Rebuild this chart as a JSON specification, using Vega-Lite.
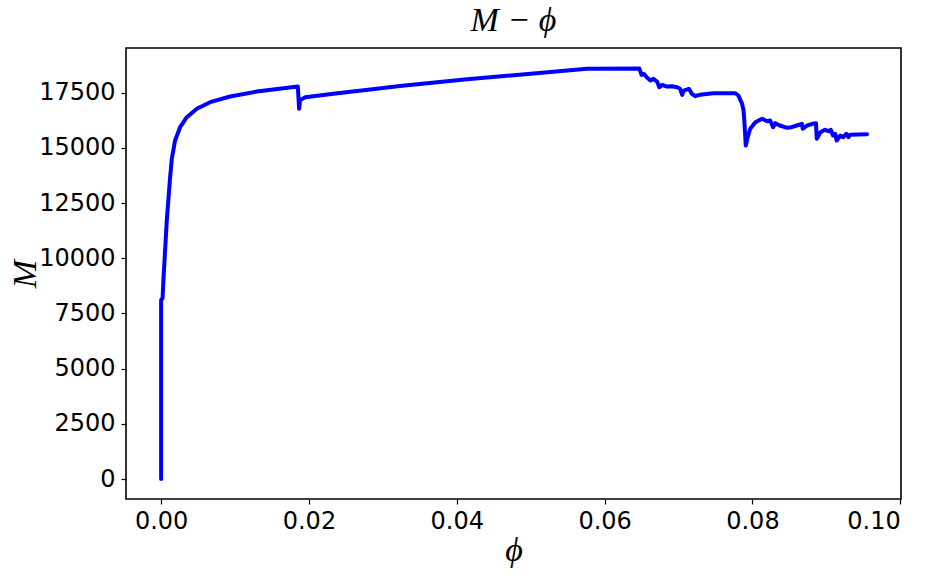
{
  "$schema": "https://vega.github.io/schema/vega-lite/v6.json",
  "width": 775,
  "height": 451,
  "autosize": {"type": "none"},
  "padding": {"left": 126, "top": 48, "right": 31, "bottom": 80},
  "background": "white",
  "title": {
    "text": "M − ϕ",
    "font": "Liberation Serif",
    "fontStyle": "italic",
    "fontWeight": "normal",
    "fontSize": 34,
    "color": "black",
    "anchor": "middle",
    "offset": 10
  },
  "data": {
    "values": [
      {"i": 1, "phi": 0.0, "M": 0},
      {"i": 2, "phi": 0.0, "M": 8100},
      {"i": 3, "phi": 0.0002, "M": 8200},
      {"i": 4, "phi": 0.00031, "M": 9000},
      {"i": 5, "phi": 0.00077, "M": 11715},
      {"i": 6, "phi": 0.00122, "M": 13673},
      {"i": 7, "phi": 0.00145, "M": 14505},
      {"i": 8, "phi": 0.00189, "M": 15333},
      {"i": 9, "phi": 0.00257, "M": 15934},
      {"i": 10, "phi": 0.00348, "M": 16387},
      {"i": 11, "phi": 0.00483, "M": 16766},
      {"i": 12, "phi": 0.00663, "M": 17066},
      {"i": 13, "phi": 0.00934, "M": 17323},
      {"i": 14, "phi": 0.01295, "M": 17549},
      {"i": 15, "phi": 0.01655, "M": 17699},
      {"i": 16, "phi": 0.0185, "M": 17776},
      {"i": 17, "phi": 0.01867, "M": 16766},
      {"i": 18, "phi": 0.01881, "M": 17160},
      {"i": 19, "phi": 0.0195, "M": 17290},
      {"i": 20, "phi": 0.0233, "M": 17445},
      {"i": 21, "phi": 0.0283, "M": 17640},
      {"i": 22, "phi": 0.0323, "M": 17800},
      {"i": 23, "phi": 0.0414, "M": 18110},
      {"i": 24, "phi": 0.0468, "M": 18260},
      {"i": 25, "phi": 0.0504, "M": 18370},
      {"i": 26, "phi": 0.0576, "M": 18580},
      {"i": 27, "phi": 0.0647, "M": 18590},
      {"i": 28, "phi": 0.065, "M": 18305},
      {"i": 29, "phi": 0.0653, "M": 18350},
      {"i": 30, "phi": 0.0657, "M": 18196},
      {"i": 31, "phi": 0.0662, "M": 18047},
      {"i": 32, "phi": 0.0666, "M": 18124},
      {"i": 33, "phi": 0.0671, "M": 18002},
      {"i": 34, "phi": 0.0674, "M": 17744},
      {"i": 35, "phi": 0.0678, "M": 17852},
      {"i": 36, "phi": 0.0684, "M": 17776},
      {"i": 37, "phi": 0.0691, "M": 17790},
      {"i": 38, "phi": 0.0698, "M": 17744},
      {"i": 39, "phi": 0.0702, "M": 17671},
      {"i": 40, "phi": 0.0705, "M": 17400},
      {"i": 41, "phi": 0.0707, "M": 17594},
      {"i": 42, "phi": 0.0714, "M": 17671},
      {"i": 43, "phi": 0.0718, "M": 17445},
      {"i": 44, "phi": 0.0723, "M": 17336},
      {"i": 45, "phi": 0.0725, "M": 17368},
      {"i": 46, "phi": 0.0729, "M": 17400},
      {"i": 47, "phi": 0.0747, "M": 17472},
      {"i": 48, "phi": 0.0777, "M": 17472},
      {"i": 49, "phi": 0.0781, "M": 17368},
      {"i": 50, "phi": 0.0786, "M": 16993},
      {"i": 51, "phi": 0.0788, "M": 16690},
      {"i": 52, "phi": 0.0789, "M": 16237},
      {"i": 53, "phi": 0.0791, "M": 15107},
      {"i": 54, "phi": 0.0793, "M": 15410},
      {"i": 55, "phi": 0.0797, "M": 15862},
      {"i": 56, "phi": 0.0804, "M": 16161},
      {"i": 57, "phi": 0.0813, "M": 16314},
      {"i": 58, "phi": 0.082, "M": 16206},
      {"i": 59, "phi": 0.0824, "M": 16237},
      {"i": 60, "phi": 0.0828, "M": 15934},
      {"i": 61, "phi": 0.0831, "M": 16115},
      {"i": 62, "phi": 0.0837, "M": 16011},
      {"i": 63, "phi": 0.0847, "M": 15907},
      {"i": 64, "phi": 0.0853, "M": 15934},
      {"i": 65, "phi": 0.086, "M": 16011},
      {"i": 66, "phi": 0.0867, "M": 16088},
      {"i": 67, "phi": 0.0868, "M": 15862},
      {"i": 68, "phi": 0.0874, "M": 16011},
      {"i": 69, "phi": 0.0881, "M": 16088},
      {"i": 70, "phi": 0.0886, "M": 16115},
      {"i": 71, "phi": 0.0887, "M": 15410},
      {"i": 72, "phi": 0.0892, "M": 15708},
      {"i": 73, "phi": 0.0898, "M": 15817},
      {"i": 74, "phi": 0.0903, "M": 15753},
      {"i": 75, "phi": 0.0906, "M": 15817},
      {"i": 76, "phi": 0.0909, "M": 15559},
      {"i": 77, "phi": 0.0912, "M": 15636},
      {"i": 78, "phi": 0.0914, "M": 15333},
      {"i": 79, "phi": 0.0919, "M": 15559},
      {"i": 80, "phi": 0.0923, "M": 15482},
      {"i": 81, "phi": 0.0927, "M": 15636},
      {"i": 82, "phi": 0.093, "M": 15482},
      {"i": 83, "phi": 0.0932, "M": 15590},
      {"i": 84, "phi": 0.0955, "M": 15620}
    ]
  },
  "mark": {"type": "line", "color": "#0000ff", "strokeWidth": 4, "strokeJoin": "round", "strokeCap": "round", "clip": true},
  "encoding": {
    "x": {
      "field": "phi",
      "type": "quantitative",
      "scale": {"domain": [-0.00475, 0.1001], "nice": false, "zero": false},
      "axis": {
        "title": "ϕ",
        "values": [0, 0.02, 0.04, 0.06, 0.08, 0.1],
        "format": ".2f",
        "titleFont": "Liberation Serif",
        "titleFontStyle": "italic",
        "titleFontWeight": "normal",
        "titleFontSize": 34,
        "titlePadding": 0,
        "labelPadding": 5
      }
    },
    "y": {
      "field": "M",
      "type": "quantitative",
      "scale": {"domain": [-900, 19520], "nice": false, "zero": false},
      "axis": {
        "title": "M",
        "values": [0, 2500, 5000, 7500, 10000, 12500, 15000, 17500],
        "format": "d",
        "titleFont": "Liberation Serif",
        "titleFontStyle": "italic",
        "titleFontWeight": "normal",
        "titleFontSize": 34,
        "titlePadding": -4,
        "labelPadding": 6
      }
    },
    "order": {"field": "i", "type": "quantitative"}
  },
  "config": {
    "view": {"stroke": "black", "strokeWidth": 1.6},
    "axis": {
      "domain": false,
      "grid": false,
      "ticks": true,
      "tickSize": 5,
      "tickWidth": 1.2,
      "tickColor": "black",
      "labelColor": "black",
      "titleColor": "black",
      "labelFont": "DejaVu Sans",
      "labelFontSize": 24
    }
  }
}
